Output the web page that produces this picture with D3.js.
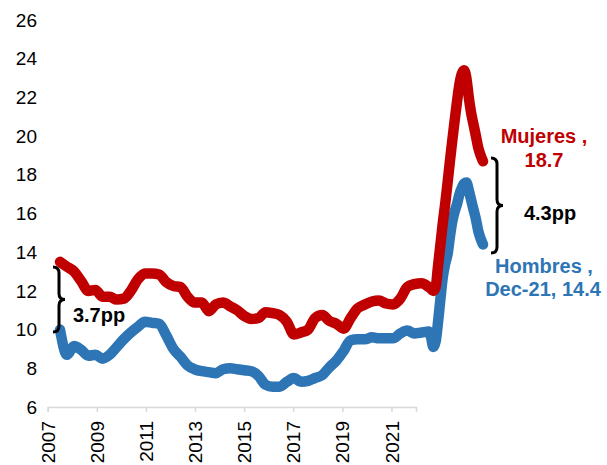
<!DOCTYPE html>
<html><head><meta charset="utf-8">
<script src="https://cdn.jsdelivr.net/npm/d3@7"></script>
<style>body{margin:0;background:#fff}svg{display:block}text{font-family:"Liberation Sans",Arial,sans-serif}</style>
</head><body><svg id="c" width="607" height="465"></svg>
<script>
// Dates: quarterly to 2019-10, monthly 2020-01 .. 2021-12
const quarterDates = [];
for (let y = 2007; y <= 2019; y++) for (const m of [1,4,7,10]) quarterDates.push(`${y}-${String(m).padStart(2,"0")}`);
const monthDates = [];
for (let y = 2020; y <= 2021; y++) for (let m = 1; m <= 12; m++) monthDates.push(`${y}-${String(m).padStart(2,"0")}`);
const dates = quarterDates.concat(monthDates);

const mujeres = [
  13.5,13.25,13.0,12.5, 12.0,12.05,11.7,11.7, 11.55,11.6,12.0,12.6, 12.9,12.9,12.85,12.45,
  12.25,12.2,11.7,11.4, 11.4,10.95,11.3,11.4, 11.2,11.0,10.7,10.55, 10.6,10.9,10.85,10.75,
  10.4,9.75,9.85,10.0, 10.6,10.75,10.45,10.3, 10.05,10.6,11.1,11.3, 11.45,11.5,11.35,11.3,
  11.6,12.2,12.35,12.4,
  12.2,12.1,12.0,12.2,13.3,14.4,15.5,16.5,17.6,18.7,19.8,20.8,
  21.8,22.7,23.2,23.4,23.0,22.0,21.2,20.6,20.0,19.4,19.0,18.7
];
const hombres = [
  10.0,8.7,9.15,8.95, 8.65,8.7,8.5,8.7, 9.1,9.5,9.85,10.15, 10.4,10.35,10.3,9.7,
  9.0,8.6,8.15,7.95, 7.85,7.8,7.75,7.95, 8.0,7.95,7.9,7.85, 7.6,7.15,7.05,7.05,
  7.3,7.5,7.3,7.35, 7.5,7.65,8.05,8.4, 8.9,9.45,9.5,9.5, 9.6,9.55,9.55,9.55,
  9.8,9.95,9.8,9.85,
  9.9,9.6,9.1,9.4,10.4,11.6,12.7,13.4,13.9,14.8,15.6,16.1,
  16.5,17.0,17.3,17.55,17.6,17.2,16.7,16.2,15.7,15.1,14.7,14.4
];
const yTicks = [6,8,10,12,14,16,18,20,22,24,26];
const xTickYears = [2007,2009,2011,2013,2015,2017,2019,2021];

const svg = d3.select("#c");
const parse = d3.timeParse("%Y-%m");
const dataX = d3.scaleTime().domain([parse("2007-01"), parse("2021-12")]).range([60, 483]);
const axisX = d3.scaleLinear().domain([2007, 2022]).range([47.7, 416]);
const y = d3.scaleLinear().domain([6, 26]).range([407, 20]);

// Y labels
svg.append("g").selectAll("text").data(yTicks).join("text")
  .attr("x", 37).attr("y", d => y(d)).attr("dy", "0.35em")
  .attr("text-anchor", "end").attr("font-size", 19).attr("fill", "#000")
  .text(d => d);

// X axis
const gx = svg.append("g").attr("transform", "translate(0,407)")
  .call(d3.axisBottom(axisX).tickValues(xTickYears).tickSize(5).tickFormat(d3.format("d")));
gx.select(".domain").attr("stroke", "#d9d9d9").attr("stroke-width", 1.5);
gx.selectAll(".tick line").attr("stroke", "#d9d9d9").attr("stroke-width", 1.5);
gx.selectAll(".tick text").attr("font-size", 19).attr("fill", "#000")
  .attr("font-family", "Liberation Sans, Arial, sans-serif")
  .attr("transform", "rotate(-90)").attr("text-anchor", "end")
  .attr("x", -14).attr("y", 0).attr("dy", "0.35em");

// Lines
const line = d3.line().x((d,i) => dataX(parse(dates[i]))).y(d => y(d)).curve(d3.curveMonotoneX);
svg.append("path").datum(hombres).attr("d", line).attr("fill", "none")
  .attr("stroke", "#2E75B6").attr("stroke-width", 10.5).attr("stroke-linecap", "round").attr("stroke-linejoin", "round");
svg.append("path").datum(mujeres).attr("d", line).attr("fill", "none")
  .attr("stroke", "#C00000").attr("stroke-width", 10.5).attr("stroke-linecap", "round").attr("stroke-linejoin", "round");

// Braces
function brace(x0, y1, y2, w) {
  const xm = x0 + w/2, ym = (y1 + y2)/2, r = 6;
  return `M${x0},${y1} Q${xm},${y1} ${xm},${y1+r} L${xm},${ym-r} Q${xm},${ym} ${x0+w},${ym} Q${xm},${ym} ${xm},${ym+r} L${xm},${y2-r} Q${xm},${y2} ${x0},${y2}`;
}
svg.append("path").attr("d", brace(53, y(13.24), y(9.88), 12))
  .attr("fill", "none").attr("stroke", "#000").attr("stroke-width", 3);
svg.append("path").attr("d", brace(491, y(18.87), y(13.96), 12))
  .attr("fill", "none").attr("stroke", "#000").attr("stroke-width", 3);

// Annotation texts
const ann = [
  {t: "3.7pp", x: 99, y: 322, c: "#000"},
  {t: "4.3pp", x: 550, y: 220, c: "#000"},
  {t: "Mujeres ,", x: 544, y: 143, c: "#C00000"},
  {t: "18.7", x: 544, y: 167, c: "#C00000"},
  {t: "Hombres ,", x: 544, y: 273, c: "#2E75B6"},
  {t: "Dec-21, 14.4", x: 543, y: 296, c: "#2E75B6"}
];
svg.append("g").selectAll("text").data(ann).join("text")
  .attr("x", d => d.x).attr("y", d => d.y).attr("text-anchor", "middle")
  .attr("font-size", 20).attr("font-weight", "bold").attr("fill", d => d.c)
  .text(d => d.t);
</script></body></html>
